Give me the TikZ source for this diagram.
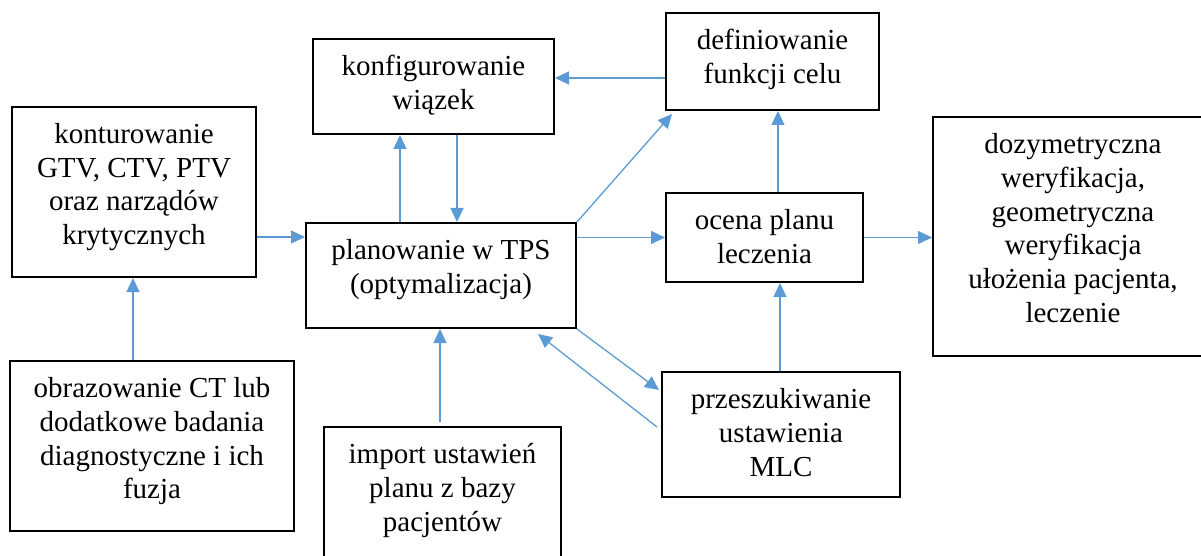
\documentclass[tikz,border=0pt]{standalone}
\usepackage{fontspec}
\setmainfont{Liberation Serif}
\usetikzlibrary{arrows.meta}
\definecolor{strz}{HTML}{5B9BD5}
\tikzset{
	blok/.style={draw, line width=1pt, inner sep=0pt},
	tekst/.style={anchor=north, align=center, inner sep=0pt, font=\fontsize{14.5}{16.9}\selectfont},
	arr/.style={draw=strz, line width=0.65pt, -{Triangle[length=7pt,width=6.5pt]}}
}
\begin{document}
\begin{tikzpicture}[x=0.5pt,y=-0.5pt]
	\useasboundingbox (0,0) rectangle (1201,556);
	\clip (0,0) rectangle (1201,556);
	\node[blok, minimum width=122pt, minimum height=85pt] (kontur) at (134,192) {};
	\node[blok, minimum width=142pt, minimum height=85pt] (obraz) at (152,446) {};
	\node[blok, minimum width=120.5pt, minimum height=47.5pt] (konfig) at (433.5,86.5) {};
	\node[blok, minimum width=135pt, minimum height=52.5pt] (plan) at (441,275.5) {};
	\node[blok, minimum width=118.5pt, minimum height=76.5pt] (imp) at (442.5,503.5) {};
	\node[blok, minimum width=106.5pt, minimum height=48.5pt] (defin) at (772.5,61.5) {};
	\node[blok, minimum width=98.5pt, minimum height=44.5pt] (ocena) at (764.5,237.5) {};
	\node[blok, minimum width=119pt, minimum height=62.5pt] (przesz) at (781,434.5) {};
	\node[blok, minimum width=140pt, minimum height=119.5pt] (dozy) at (1073,236.5) {};

	\node[tekst] (kontur-t) at ([yshift=-6.67pt]kontur.north) {\strut konturowanie\\GTV, CTV, PTV\\oraz narządów\\krytycznych};
	\node[tekst] (obraz-t) at ([yshift=-6.67pt]obraz.north) {\strut obrazowanie CT lub\\dodatkowe badania\\diagnostyczne i ich\\fuzja};
	\node[tekst] (konfig-t) at ([yshift=-6.67pt]konfig.north) {\strut konfigurowanie\\wiązek};
	\node[tekst] (plan-t) at ([yshift=-6.67pt]plan.north) {\strut planowanie w TPS\\(optymalizacja)};
	\node[tekst] (imp-t) at ([yshift=-6.67pt]imp.north) {\strut import ustawień\\planu z bazy\\pacjentów};
	\node[tekst] (defin-t) at ([yshift=-6.67pt]defin.north) {\strut definiowanie\\funkcji celu};
	\node[tekst] (ocena-t) at ([yshift=-6.67pt]ocena.north) {\strut ocena planu\\leczenia};
	\node[tekst] (przesz-t) at ([yshift=-6.67pt]przesz.north) {\strut przeszukiwanie\\ustawienia\\MLC};
	\node[tekst] (dozy-t) at ([yshift=-6.67pt]dozy.north) {\strut dozymetryczna\\weryfikacja,\\geometryczna\\weryfikacja\\ułożenia pacjenta,\\leczenie};

	\draw[arr] ([yshift=-22.5pt]kontur.east) -- ([yshift=-22.5pt]kontur.east -| plan.west);
	\draw[arr] ([xshift=-9.5pt]obraz.north) -- ([xshift=-9.5pt]obraz.north |- kontur.south);
	\draw[arr] ([xshift=-1.25pt,yshift=2pt]imp.north) -- ([xshift=-1.25pt]imp.north |- plan.south);
	\draw[arr] ([xshift=-20.5pt]plan.north) -- ([xshift=-20.5pt]plan.north |- konfig.south);
	\draw[arr] ([xshift=11.75pt]konfig.south) -- ([xshift=11.75pt]konfig.south |- plan.north);
	\draw[arr] ([yshift=-8.25pt]defin.west) -- ([yshift=-8.25pt]defin.west -| konfig.east);
	\draw[arr] (plan.north east) -- ([xshift=3.5pt,yshift=-1.5pt]defin.south west);
	\draw[arr] (plan.east |- ocena.west) -- (ocena.west);
	\draw[arr] ([xshift=6.75pt]ocena.north) -- ([xshift=6.75pt]ocena.north |- defin.south);
	\draw[arr] ([xshift=-0.5pt]przesz.north) -- ([xshift=-0.5pt]przesz.north |- ocena.south);
	\draw[arr] (ocena.east) -- (ocena.east -| dozy.west);
	\draw[arr] (plan.south east) -- ([xshift=-1pt,yshift=-9.5pt]przesz.north west);
	\draw[arr] ([xshift=-2pt,yshift=-28pt]przesz.north west) -- ([xshift=48.5pt,yshift=-2.5pt]plan.south);
\end{tikzpicture}
\end{document}
